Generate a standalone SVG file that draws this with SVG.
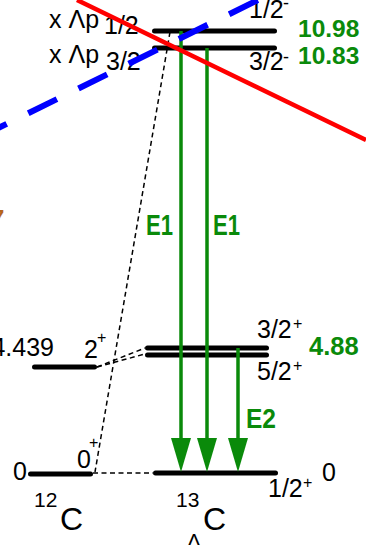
<svg xmlns="http://www.w3.org/2000/svg" width="366" height="545" viewBox="0 0 366 545">
<defs>
<style>
.lvl{stroke:#000;stroke-width:5;stroke-linecap:round;fill:none}
.dsh{stroke:#000;stroke-width:1.5;stroke-dasharray:5 3.5;fill:none}
.g{stroke:#0a8a0a;stroke-width:3.5;fill:none}
.gh{fill:#0a8a0a}
.t{font-family:"Liberation Sans",Arial,sans-serif;fill:#000}
.gt{font-family:"Liberation Sans",Arial,sans-serif;fill:#0a8a0a;font-weight:bold}
</style>
</defs>
<rect width="366" height="545" fill="#fff"/>
<g id="connectors">
<path class="dsh" d="M170,32 L95,472"/>
<path class="dsh" d="M97,367 L145,348"/>
<path class="dsh" d="M97,367 L145,354"/>
<path class="dsh" d="M93,473 L153,473"/>
</g>
<g id="levels-12C">
<line class="lvl" x1="34.5" y1="367" x2="94.5" y2="367"/>
<line class="lvl" x1="30.5" y1="474" x2="90.5" y2="474"/>
<text class="t" x="54" y="356" font-size="25" text-anchor="end">4.439</text>
<text class="t" x="84" y="358" font-size="25">2</text>
<text class="t" x="97" y="343" font-size="16">+</text>
<text class="t" x="13" y="480" font-size="25">0</text>
<text class="t" x="77" y="468" font-size="25">0</text>
<text class="t" x="89" y="448" font-size="16">+</text>
<text class="t" x="34" y="507" font-size="21">12</text>
<text class="t" x="60" y="530" font-size="32">C</text>
</g>
<g id="levels-13LC">
<line class="lvl" x1="154.5" y1="31" x2="274.5" y2="31"/>
<line class="lvl" x1="154.5" y1="48" x2="274.5" y2="48"/>
<line class="lvl" x1="147.5" y1="348" x2="266.5" y2="348"/>
<line class="lvl" x1="147.5" y1="355" x2="266.5" y2="355"/>
<line class="lvl" x1="155.5" y1="473" x2="275.5" y2="473"/>
<text class="t" x="49" y="28" font-size="25">x Λp</text>
<text class="t" x="104" y="34" font-size="25">1/2</text>
<text class="t" x="49" y="63" font-size="25">x Λp</text>
<text class="t" x="106" y="70" font-size="25">3/2</text>
<text class="t" x="249" y="18" font-size="25">1/2</text>
<text class="t" x="283" y="9" font-size="18">-</text>
<text class="t" x="249" y="70" font-size="25">3/2</text>
<text class="t" x="283" y="63" font-size="18">-</text>
<text class="t" x="257" y="338" font-size="25">3/2</text>
<text class="t" x="293" y="329" font-size="16">+</text>
<text class="t" x="257" y="380" font-size="25">5/2</text>
<text class="t" x="293" y="371" font-size="16">+</text>
<text class="t" x="268" y="497" font-size="25">1/2</text>
<text class="t" x="303" y="488" font-size="16">+</text>
<text class="t" x="322" y="481" font-size="25">0</text>
<text class="gt" x="298" y="37" font-size="24.5">10.98</text>
<text class="gt" x="298" y="64" font-size="24.5">10.83</text>
<text class="gt" x="309" y="355" font-size="25.5">4.88</text>
<text class="t" x="176" y="507" font-size="21">13</text>
<text class="t" x="203" y="530" font-size="32">C</text>
<text class="t" x="187" y="548" font-size="21">Λ</text>
</g>
<g id="transitions">
<line class="g" x1="181" y1="31" x2="181" y2="440"/>
<polygon class="gh" points="171,438 191,438 181,472"/>
<line class="g" x1="207" y1="48" x2="207" y2="440"/>
<polygon class="gh" points="197,438 217,438 207,472"/>
<line class="g" x1="238" y1="348" x2="238" y2="440"/>
<polygon class="gh" points="228,438 248,438 238,472"/>
<text class="gt" x="146" y="235" font-size="29" textLength="27" lengthAdjust="spacingAndGlyphs">E1</text>
<text class="gt" x="213" y="235" font-size="29" textLength="27" lengthAdjust="spacingAndGlyphs">E1</text>
<text class="gt" x="246" y="428" font-size="28" textLength="30" lengthAdjust="spacingAndGlyphs">E2</text>
</g>
<g id="overlay-lines">
<path d="M-22,138 L262,-2" stroke="#0000ff" stroke-width="6" stroke-dasharray="32 24" fill="none"/>
<path d="M77,0 L366,140" stroke="#ff0000" stroke-width="4.5" fill="none"/>
<text x="-8" y="225" font-family="Liberation Sans,Arial,sans-serif" font-size="22" font-weight="bold" fill="#b5651d">7</text>
</g>
</svg>
